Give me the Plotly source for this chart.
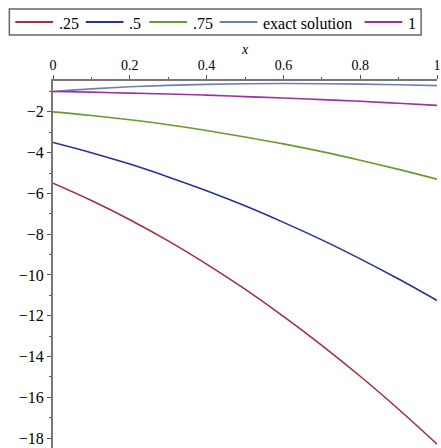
import plotly.graph_objects as go

# Sample points along x
x = [0.0, 0.1, 0.2, 0.3, 0.4, 0.5, 0.6, 0.7, 0.8, 0.9, 1.0]

# Approximations for each parameter value, plus the exact solution
y_025 = [-5.5, -6.35, -7.29, -8.33, -9.47, -10.7, -12.03, -13.45, -14.97, -16.59, -18.3]
y_05 = [-3.5, -4.00, -4.56, -5.19, -5.87, -6.61, -7.42, -8.28, -9.21, -10.20, -11.25]
y_075 = [-2.0, -2.18, -2.39, -2.63, -2.91, -3.23, -3.57, -3.95, -4.37, -4.82, -5.3]
y_exact = [-1.0, -0.87, -0.77, -0.70, -0.65, -0.62, -0.61, -0.62, -0.64, -0.67, -0.71]
y_1 = [-1.0, -1.03, -1.08, -1.12, -1.18, -1.25, -1.32, -1.40, -1.48, -1.58, -1.68]

names = [".25", ".5", ".75", "exact solution", "1"]
values = [y_025, y_05, y_075, y_exact, y_1]
colors = ["#A3303C", "#26329A", "#6B9A2E", "#6C80B4", "#A0309E"]

x_ticks = [0, 0.2, 0.4, 0.6, 0.8, 1]
x_tick_text = ["0", "0.2", "0.4", "0.6", "0.8", "1"]
y_ticks = [-2, -4, -6, -8, -10, -12, -14, -16, -18]

FONT = "Liberation Serif, Times New Roman, serif"

# Page geometry (px)
W, H = 441, 448
ML, MR, MT, MB = 53, 1, 81, 0


def px_x(px):
    return (px - ML) / (W - ML - MR)


def px_y(py):
    return (H - MB - py) / (H - MT - MB)


fig = go.Figure()
for name, ys, color in zip(names, values, colors):
    fig.add_trace(go.Scatter(
        x=x, y=ys, name=name, mode="lines", showlegend=False,
        line=dict(color=color, width=1.6, shape="spline", smoothing=1.0),
    ))

# Boxed key above the plot: a line sample followed by its label
key_left, key_right, key_top, key_bottom = 9, 424, 9, 35
key_mid = (key_top + key_bottom) / 2
sample_starts = [15, 86, 150, 221, 367]
sample_len = 38

shapes = [dict(
    type="rect", xref="paper", yref="paper",
    x0=px_x(key_left), x1=px_x(key_right), y0=px_y(key_bottom), y1=px_y(key_top),
    line=dict(color="#666666", width=1.5), fillcolor="white", layer="above",
)]
annotations = []
for name, color, sx in zip(names, colors, sample_starts):
    shapes.append(dict(
        type="line", xref="paper", yref="paper",
        x0=px_x(sx), x1=px_x(sx + sample_len), y0=px_y(key_mid), y1=px_y(key_mid),
        line=dict(color=color, width=1.8), layer="above",
    ))
    annotations.append(dict(
        text=name, xref="paper", yref="paper",
        x=px_x(sx + sample_len + 4), y=px_y(key_mid + 1),
        xanchor="left", yanchor="middle", showarrow=False,
        font=dict(family=FONT, size=16, color="black"),
    ))

fig.update_layout(
    width=W, height=H,
    margin=dict(l=ML, r=MR, t=MT, b=MB),
    paper_bgcolor="white", plot_bgcolor="white",
    font=dict(family=FONT, size=14, color="black"),
    showlegend=False,
    shapes=shapes,
    annotations=annotations,
    xaxis=dict(
        side="top", range=[0, 1],
        tickvals=x_ticks, ticktext=x_tick_text,
        ticks="outside", ticklen=4, tickwidth=1, tickcolor="#555555",
        minor=dict(dtick=0.1, ticks="outside", ticklen=2.5, tickcolor="#555555"),
        showline=True, linecolor="#777777", linewidth=1.5,
        showgrid=False, zeroline=False,
        ticklabeloverflow="allow",
        title=dict(text="<i>x</i>", font=dict(family=FONT, size=14), standoff=0),
        tickfont=dict(family=FONT, size=14),
    ),
    yaxis=dict(
        range=[-18.49, -0.485],
        tickvals=y_ticks,
        ticks="outside", ticklen=4, tickwidth=1, tickcolor="#555555",
        minor=dict(dtick=1, ticks="outside", ticklen=2.5, tickcolor="#555555"),
        showline=True, linecolor="#777777", linewidth=2,
        showgrid=False, zeroline=False,
        tickfont=dict(family=FONT, size=16),
    ),
)

fig.write_html("out.html")
